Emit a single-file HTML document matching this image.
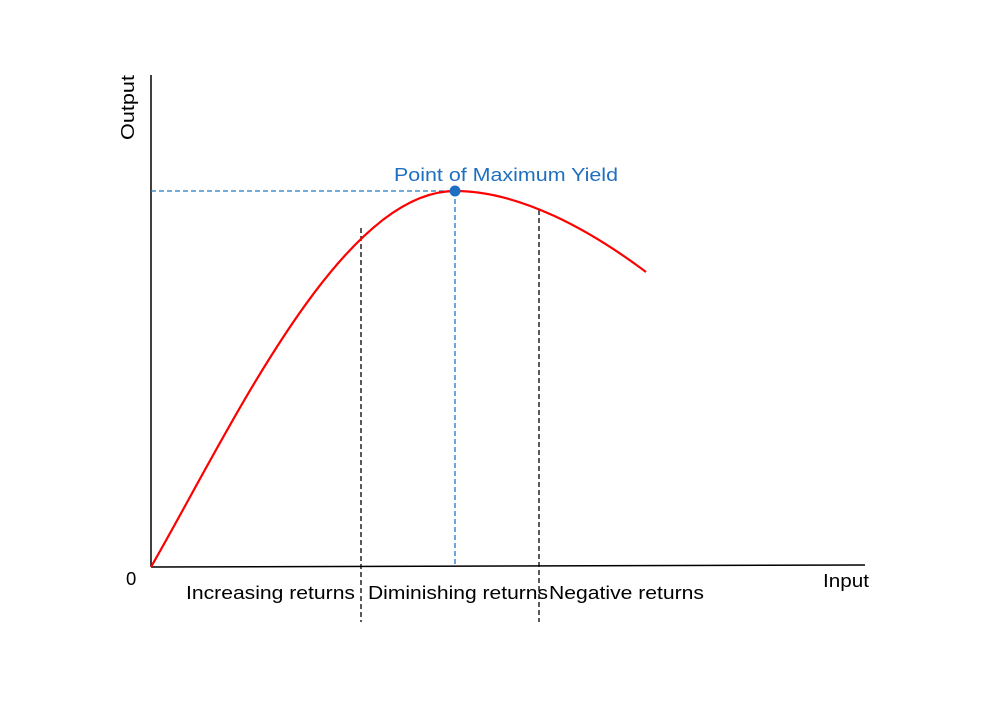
<!DOCTYPE html>
<html><head><meta charset="utf-8"><style>
body{margin:0;background:#fff}
svg{display:block}
text{font-family:"Liberation Sans",Arial,sans-serif;font-size:18.5px}
</style></head><body>
<svg width="1000" height="707" viewBox="0 0 1000 707">
<line x1="151" y1="75" x2="151" y2="567" stroke="#000" stroke-width="1.5"/>
<line x1="151" y1="567" x2="865" y2="565" stroke="#000" stroke-width="1.5"/>
<line x1="151" y1="191" x2="455" y2="191" stroke="#1f77c4" stroke-width="1.3" stroke-dasharray="5,3"/>
<line x1="455" y1="191" x2="455" y2="567" stroke="#1f77c4" stroke-width="1.3" stroke-dasharray="5,3"/>
<line x1="361" y1="228" x2="361" y2="622" stroke="#000" stroke-width="1.3" stroke-dasharray="5,3"/>
<line x1="539" y1="210" x2="539" y2="622" stroke="#000" stroke-width="1.3" stroke-dasharray="5,3"/>
<path d="M151,567 C230,430 340,191 455,191 C520,191 590,230 646,272" fill="none" stroke="#f00" stroke-width="2.2"/>
<circle cx="455" cy="191" r="5.5" fill="#1f6fc0"/>
<text x="394" y="181" textLength="224" lengthAdjust="spacingAndGlyphs" fill="#1f6fc0">Point of Maximum Yield</text>
<text x="134" y="140" textLength="65" lengthAdjust="spacingAndGlyphs" transform="rotate(-90 134 140)">Output</text>
<text x="126" y="585">0</text>
<text x="823" y="587" textLength="46" lengthAdjust="spacingAndGlyphs">Input</text>
<text x="186" y="599" textLength="169" lengthAdjust="spacingAndGlyphs">Increasing returns</text>
<text x="368" y="599" textLength="180" lengthAdjust="spacingAndGlyphs">Diminishing returns</text>
<text x="549" y="599" textLength="155" lengthAdjust="spacingAndGlyphs">Negative returns</text>
</svg>
</body></html>
